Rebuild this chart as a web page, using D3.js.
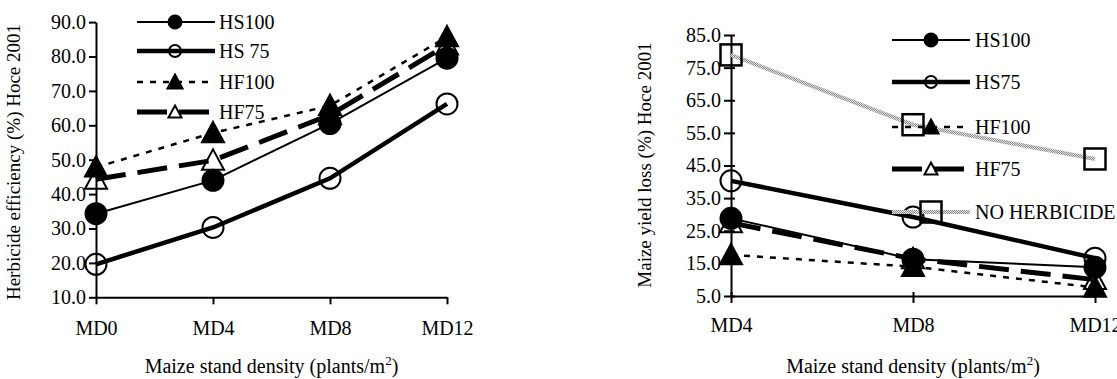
<!DOCTYPE html>
<html>
<head>
<meta charset="utf-8">
<script src="https://cdn.jsdelivr.net/npm/d3@7"></script>
<style>
	body { margin: 0; background: #fff; }
	svg, svg text { font-family: "Liberation Serif", "Tinos", "Times New Roman", Times, "DejaVu Serif", serif; }
</style>
</head>
<body>
<div id="chart"></div>
<script>
// left chart: herbicide efficiency
var leftCats = ["MD0", "MD4", "MD8", "MD12"];
var leftTicks = [10, 20, 30, 40, 50, 60, 70, 80, 90];
var leftHS100 = [34.3, 44.0, 60.5, 79.5];
var leftHS75 = [19.6, 30.3, 44.6, 66.2];
var leftHF100 = [47.8, 57.8, 65.7, 85.7];
var leftHF75 = [44.3, 49.8, 63.0, 83.3];

// right chart: maize yield loss
var rightCats = ["MD4", "MD8", "MD12"];
var rightTicks = [5, 15, 25, 35, 45, 55, 65, 75, 85];
var rightHS100 = [28.8, 16.3, 13.8];
var rightHS75 = [40.3, 29.2, 16.6];
var rightHF100 = [17.6, 14.0, 7.6];
var rightHF75 = [27.4, 16.4, 10.0];
var rightNoHerb = [78.9, 57.5, 47.0];

var FONT = '"Liberation Serif", "Tinos", "Times New Roman", Times, "DejaVu Serif", serif';
var W = 1117, H = 379;
var svg = d3.select("#chart").append("svg")
	.attr("width", W)
	.attr("height", H)
	.attr("font-family", FONT);

var defs = svg.append("defs");
var pat = defs.append("pattern")
	.attr("id", "grayhatch")
	.attr("patternUnits", "userSpaceOnUse")
	.attr("width", 2)
	.attr("height", 2);
pat.append("rect").attr("width", 2).attr("height", 2).attr("fill", "#e4e4e4");
pat.append("rect").attr("width", 1).attr("height", 1).attr("fill", "#8a8a8a");
pat.append("rect").attr("x", 1).attr("y", 1).attr("width", 1).attr("height", 1).attr("fill", "#8a8a8a");

// line + marker styles per series
var styles = {
	HS100: {width: 2, dash: null, marker: "circle", fill: "#000", r: 10.5, lr: 6.5},
	HS75: {width: 4.5, dash: null, marker: "circle", fill: "none", r: 10.5, lr: 6},
	HF100: {width: 2.5, dash: "6,7", marker: "triangle", fill: "#000", r: 11, lr: 7.5},
	HF75: {width: 5, dash: "30,12", marker: "triangle", fill: "none", r: 11, lr: 6.5},
	NONE: {width: 4, dash: null, marker: "square", fill: "none", r: 10.5, lr: 10.5, stroke: "url(#grayhatch)"}
};

function drawMarker(g, type, fill, r, x, y){
	var m;
	if(type == "circle"){
		m = g.append("circle").attr("cx", x).attr("cy", y).attr("r", r);
	}else if(type == "triangle"){
		var p = d3.path();
		p.moveTo(x, y - r);
		p.lineTo(x + r, y + r * 0.85);
		p.lineTo(x - r, y + r * 0.85);
		p.closePath();
		m = g.append("path").attr("d", p.toString());
	}else{
		m = g.append("rect").attr("x", x - r).attr("y", y - r).attr("width", 2 * r).attr("height", 2 * r);
	}
	m.attr("fill", fill)
		.attr("stroke", "#000")
		.attr("stroke-width", type == "square" ? 2.5 : 2);
	return m;
}

var Chart = function(config){
	this.cats = config.cats;
	this.ticks = config.ticks;
	this.series = config.series;
	this.xRange = config.xRange;
	this.yRange = config.yRange;
	this.crossTicks = config.crossTicks;
	this.labelOffset = config.labelOffset;
	this.yTitle = config.yTitle;
	this.yTitlePos = config.yTitlePos;
	this.legend = config.legend;
	this.init();
}

Chart.prototype.init = function(){
	var self = this;
	self.g = svg.append("g");
	self.xScale = d3.scalePoint().domain(self.cats).range(self.xRange);
	self.yScale = d3.scaleLinear()
		.domain([self.ticks[0], self.ticks[self.ticks.length - 1]])
		.range(self.yRange);
}

Chart.prototype.render = function(){
	var self = this;
	var x0 = self.xRange[0], y0 = self.yRange[0];

	// axes
	var yAxis = d3.axisLeft(self.yScale)
		.tickValues(self.ticks)
		.tickFormat(d3.format(".1f"))
		.tickSize(7)
		.tickSizeOuter(0)
		.tickPadding(3);
	var ya = self.g.append("g")
		.classed("y axis", true)
		.attr("transform", "translate(" + x0 + ",0)")
		.call(yAxis);

	var xAxis = d3.axisBottom(self.xScale)
		.tickSize(7)
		.tickSizeOuter(0);
	var xa = self.g.append("g")
		.classed("x axis", true)
		.attr("transform", "translate(0," + y0 + ")")
		.call(xAxis);

	[ya, xa].forEach(function(a){
		a.attr("font-family", FONT).attr("font-size", 20);
		a.select(".domain").attr("stroke", "#000").attr("stroke-width", 2);
		a.selectAll(".tick line").attr("stroke", "#000").attr("stroke-width", 2);
		a.selectAll(".tick text").attr("fill", "#000");
	});
	xa.selectAll(".tick text").attr("y", self.labelOffset).attr("dy", 0);
	if(self.crossTicks){
		ya.selectAll(".tick line").attr("x1", 4);
		xa.selectAll(".tick line").attr("y1", -4);
	}

	// titles
	self.g.append("text")
		.attr("transform", "translate(" + self.yTitlePos[0] + "," + self.yTitlePos[1] + ") rotate(-90)")
		.attr("text-anchor", "middle")
		.attr("font-size", 19)
		.text(self.yTitle);

	var xt = self.g.append("text")
		.attr("x", (self.xRange[0] + self.xRange[1]) / 2)
		.attr("y", 373)
		.attr("text-anchor", "middle")
		.attr("font-size", 20);
	xt.append("tspan").text("Maize stand density (plants/m");
	xt.append("tspan").attr("dy", -8).attr("font-size", 13).text("2");
	xt.append("tspan").attr("dy", 8).text(")");

	// series
	var line = d3.line()
		.x(function(d){ return self.xScale(d.cat); })
		.y(function(d){ return self.yScale(d.v); });

	self.series.forEach(function(s){
		var st = styles[s.style];
		var pts = s.values.map(function(v, i){ return {cat: self.cats[i], v: v}; });
		var sg = self.g.append("g").classed("series", true);
		sg.append("path")
			.attr("d", line(pts))
			.attr("fill", "none")
			.attr("stroke", st.stroke || "#000")
			.attr("stroke-width", st.width)
			.attr("stroke-dasharray", st.dash);
		pts.forEach(function(p){
			drawMarker(sg, st.marker, st.fill, st.r, self.xScale(p.cat), self.yScale(p.v));
		});
	});

	// legend
	var L = self.legend;
	self.series.forEach(function(s, i){
		var st = styles[s.style];
		var ly = L.rows[i];
		var lg = self.g.append("g").classed("legend", true);
		lg.append("line")
			.attr("x1", L.x1).attr("x2", L.x2)
			.attr("y1", ly).attr("y2", ly)
			.attr("stroke", st.stroke || "#000")
			.attr("stroke-width", st.width)
			.attr("stroke-dasharray", st.dash);
		drawMarker(lg, st.marker, st.fill, st.lr, L.mx, ly);
		lg.append("text")
			.attr("x", L.tx)
			.attr("y", ly)
			.attr("dy", "0.33em")
			.attr("font-size", 20)
			.text(s.name);
	});
}

var left = new Chart({
	cats: leftCats,
	ticks: leftTicks,
	xRange: [96, 447],
	yRange: [297.3, 22.1],
	crossTicks: false,
	labelOffset: 38,
	yTitle: "Herbicide efficiency (%) Hoce 2001",
	yTitlePos: [20, 162],
	legend: {x1: 137, x2: 215, mx: 175, tx: 219, rows: [22, 51, 82, 112]},
	series: [
		{name: "HS100", style: "HS100", values: leftHS100},
		{name: "HS 75", style: "HS75", values: leftHS75},
		{name: "HF100", style: "HF100", values: leftHF100},
		{name: "HF75", style: "HF75", values: leftHF75}
	]
});
left.render();

var right = new Chart({
	cats: rightCats,
	ticks: rightTicks,
	xRange: [731, 1095],
	yRange: [296, 35],
	crossTicks: true,
	labelOffset: 36,
	yTitle: "Maize yield loss (%) Hoce 2001",
	yTitlePos: [651, 165],
	legend: {x1: 892, x2: 970, mx: 931, tx: 975, rows: [40, 82, 127, 169, 212]},
	series: [
		{name: "HS100", style: "HS100", values: rightHS100},
		{name: "HS75", style: "HS75", values: rightHS75},
		{name: "HF100", style: "HF100", values: rightHF100},
		{name: "HF75", style: "HF75", values: rightHF75},
		{name: "NO HERBICIDE", style: "NONE", values: rightNoHerb}
	]
});
right.render();
</script>
</body>
</html>
